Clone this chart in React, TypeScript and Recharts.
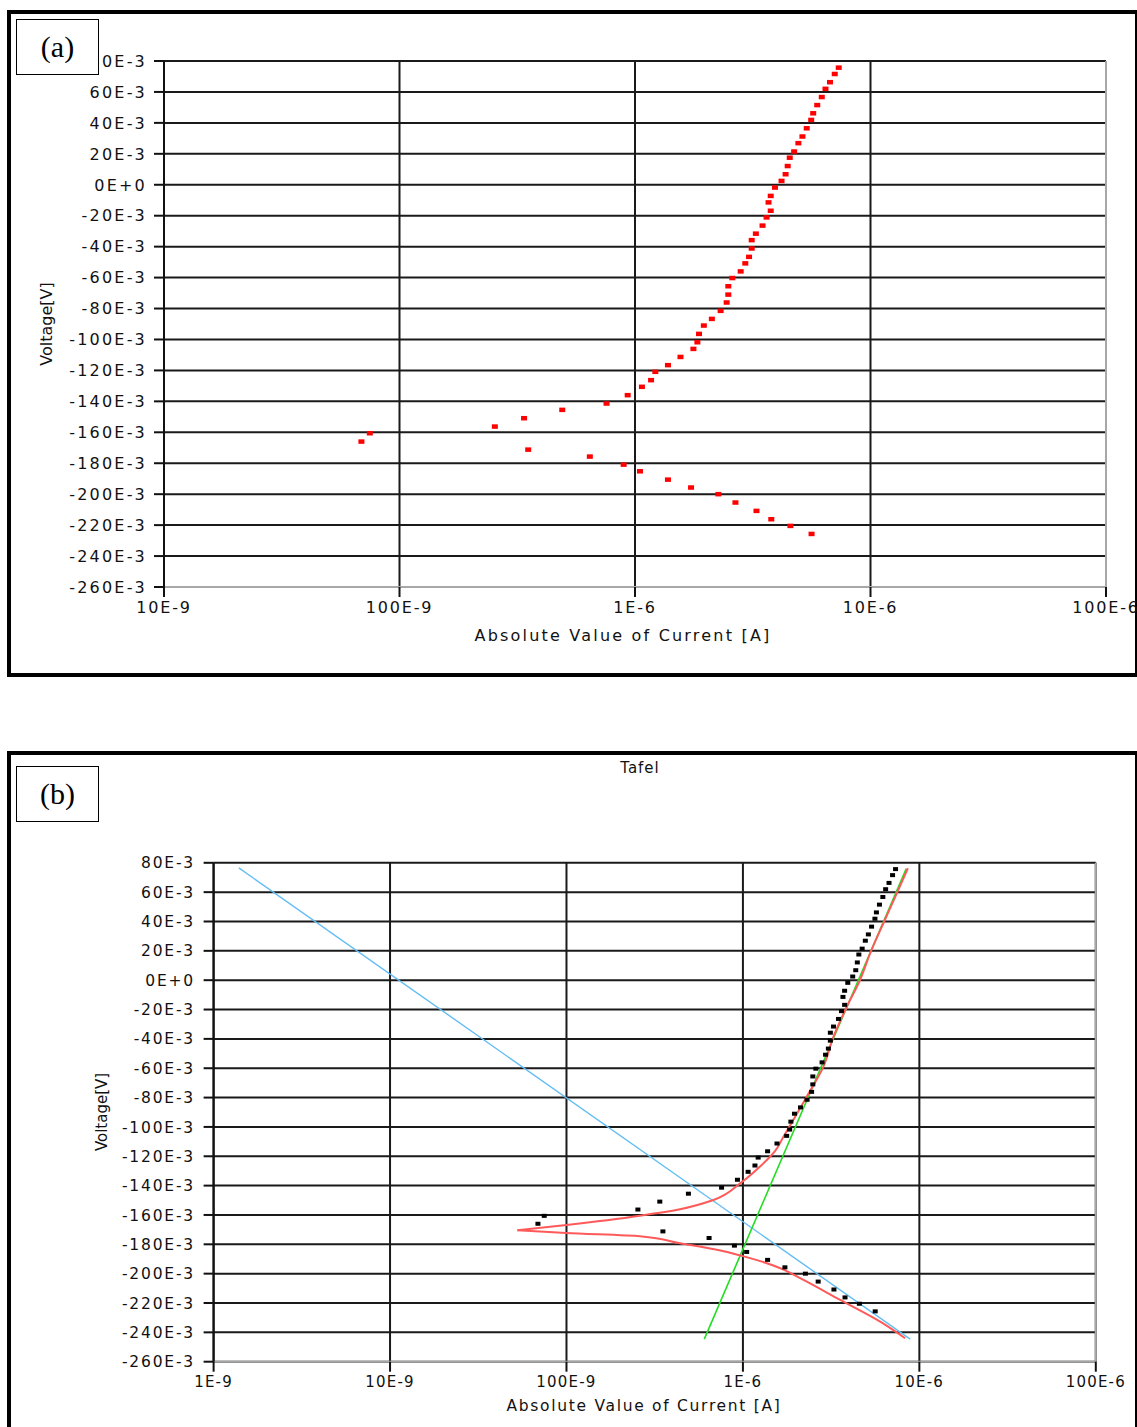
import React from 'react';
import { ScatterChart, Scatter, XAxis, YAxis, CartesianGrid, ReferenceLine } from 'recharts';

const FONT = '"DejaVu Sans", Verdana, sans-serif';
const INK = '#111111';
const GRID = '#1a1a1a';
const EDGE = '#a8a8a8';

// voltage axis (shared by both plots)
const voltageTicks = [0.08, 0.06, 0.04, 0.02, 0, -0.02, -0.04, -0.06, -0.08, -0.1, -0.12, -0.14, -0.16, -0.18, -0.2, -0.22, -0.24, -0.26];
const voltageLabels = ['80E-3', '60E-3', '40E-3', '20E-3', '0E+0', '-20E-3', '-40E-3', '-60E-3', '-80E-3', '-100E-3', '-120E-3', '-140E-3', '-160E-3', '-180E-3', '-200E-3', '-220E-3', '-240E-3', '-260E-3'];

// current axes (log)
const currentTicksA = [1e-8, 1e-7, 1e-6, 1e-5, 1e-4];
const currentLabelsA = ['10E-9', '100E-9', '1E-6', '10E-6', '100E-6'];
const currentTicksB = [1e-9, 1e-8, 1e-7, 1e-6, 1e-5, 1e-4];
const currentLabelsB = ['1E-9', '10E-9', '100E-9', '1E-6', '10E-6', '100E-6'];

// measured scan, [|I| in A, E in V]
const measured: [number, number][] = [
  [5.62e-6, -0.2257], [4.57e-6, -0.2205], [3.79e-6, -0.2162], [3.28e-6, -0.2108], [2.67e-6, -0.2054],
  [2.26e-6, -0.2], [1.73e-6, -0.1957], [1.38e-6, -0.1906], [1.05e-6, -0.1852], [8.95e-7, -0.1809],
  [6.43e-7, -0.1757], [3.52e-7, -0.1712], [6.89e-8, -0.166], [7.48e-8, -0.1606], [2.54e-7, -0.1563],
  [3.38e-7, -0.1509], [4.91e-7, -0.1455], [7.57e-7, -0.1414], [9.31e-7, -0.136], [1.07e-6, -0.1306],
  [1.17e-6, -0.1263], [1.22e-6, -0.1209], [1.38e-6, -0.1166], [1.56e-6, -0.1113], [1.77e-6, -0.1061],
  [1.84e-6, -0.1018], [1.87e-6, -0.0964], [1.96e-6, -0.091], [2.12e-6, -0.0867], [2.31e-6, -0.0815],
  [2.45e-6, -0.0761], [2.49e-6, -0.071], [2.49e-6, -0.0656], [2.59e-6, -0.0603], [2.81e-6, -0.056],
  [2.94e-6, -0.0508], [3.05e-6, -0.0466], [3.13e-6, -0.0412], [3.13e-6, -0.0358], [3.26e-6, -0.0316],
  [3.48e-6, -0.0264], [3.62e-6, -0.0211], [3.77e-6, -0.0168], [3.69e-6, -0.0114], [3.77e-6, -0.0072],
  [3.93e-6, -0.0018], [4.19e-6, 0.0025], [4.36e-6, 0.0068], [4.45e-6, 0.0121], [4.54e-6, 0.0175],
  [4.74e-6, 0.0215], [4.94e-6, 0.0269], [5.14e-6, 0.0312], [5.36e-6, 0.0365], [5.6e-6, 0.0419],
  [5.71e-6, 0.0462], [5.94e-6, 0.0515], [6.21e-6, 0.0567], [6.44e-6, 0.062], [6.73e-6, 0.0663],
  [7.05e-6, 0.0716], [7.33e-6, 0.0757],
];

// fitted curve: cathodic branch up to the tip, then anodic branch from the tip
const fitCathodic: [number, number][] = [
  [8.3e-6, -0.244], [6.0e-6, -0.2327], [3.56e-6, -0.2179], [2.11e-6, -0.2031], [1.63e-6, -0.1963],
  [1.01e-6, -0.1882], [7.0e-7, -0.1836], [4.4e-7, -0.1793], [2.61e-7, -0.1745], [1.0e-7, -0.1723],
  [5.27e-8, -0.1704],
];
const fitAnodic: [number, number][] = [
  [5.27e-8, -0.1704],
  [1.0e-7, -0.1668], [2.61e-7, -0.1605], [4.4e-7, -0.1561], [6.81e-7, -0.1498], [9.64e-7, -0.1385],
  [1.25e-6, -0.127], [1.52e-6, -0.1165], [1.7e-6, -0.1066], [1.93e-6, -0.0953], [2.3e-6, -0.0794],
  [2.86e-6, -0.0589], [3.26e-6, -0.0385], [3.88e-6, -0.0181], [4.61e-6, 0.0001], [5.26e-6, 0.0183],
  [6.25e-6, 0.0388], [7.45e-6, 0.0592], [8.61e-6, 0.0763],
];

// Tafel extrapolation lines
const cathodicTafel: [number, number][] = [[1.39e-9, 0.0765], [8.87e-6, -0.2446]];
const anodicTafel: [number, number][] = [[6.04e-7, -0.2446], [8.43e-6, 0.076]];

const rows = (pts: [number, number][]) => pts.map(([i, v]) => ({ i, v }));

const labelFor = (ticks: number[], labels: string[], value: number) => {
  const k = ticks.findIndex((t) => Math.abs(t - value) <= Math.abs(t) * 1e-6 + 1e-12);
  return k >= 0 ? labels[k] : '';
};

const yTick = (fontSize: number, spacing: number) => (p: any) => (
  <text x={p.x} y={p.y} dy="0.36em" textAnchor="end" fill={INK} fontFamily={FONT} fontSize={fontSize} letterSpacing={spacing}>
    {labelFor(voltageTicks, voltageLabels, p.payload.value)}
  </text>
);

const xTick = (ticks: number[], labels: string[], fontSize: number, spacing: number) => (p: any) => (
  <text x={p.x} y={p.y} dy="0.71em" textAnchor="middle" fill={INK} fontFamily={FONT} fontSize={fontSize} letterSpacing={spacing}>
    {labelFor(ticks, labels, p.payload.value)}
  </text>
);

const square = (w: number, h: number, color: string) => (p: any) => (
  <rect x={p.cx - w / 2} y={p.cy - h / 2} width={w} height={h} fill={color} />
);

const noMark = () => <g />;

const frame = (top: number, height: number): React.CSSProperties => ({
  position: 'absolute',
  left: 7,
  top,
  width: 1130,
  height,
  boxSizing: 'border-box',
  borderLeft: '4px solid #000',
  borderTop: '4px solid #000',
  borderBottom: '4px solid #000',
  borderRight: '2px solid #000',
});

const tagBox = (top: number): React.CSSProperties => ({
  position: 'absolute',
  left: 16,
  top,
  width: 83,
  height: 56,
  boxSizing: 'border-box',
  border: '1.5px solid #000',
  background: '#fff',
  fontFamily: '"Liberation Serif", "Times New Roman", serif',
  fontSize: 30,
  lineHeight: '53px',
  textAlign: 'center',
  color: '#000',
});

export default function App() {
  return (
    <div style={{ position: 'absolute', left: 0, top: 0, width: 1137, height: 1427, overflow: 'hidden', background: '#fff' }}>
      <div style={frame(10, 667)} />
      <div style={frame(751, 720)} />

      {/* (a) measured data only */}
      <div style={{ position: 'absolute', left: 0, top: 0 }}>
        <ScatterChart width={1137} height={680} margin={{ top: 61, right: 31, bottom: 53, left: 14 }}>
          <CartesianGrid stroke={GRID} strokeWidth={2} />
          <XAxis
            type="number"
            dataKey="i"
            scale="log"
            domain={[1e-8, 1e-4]}
            ticks={currentTicksA}
            interval={0}
            allowDataOverflow
            height={40}
            tickSize={10}
            tickMargin={5}
            tickLine={{ stroke: INK, strokeWidth: 2 }}
            axisLine={{ stroke: EDGE, strokeWidth: 2 }}
            tick={xTick(currentTicksA, currentLabelsA, 16, 1.8)}
          />
          <YAxis
            type="number"
            dataKey="v"
            domain={[-0.26, 0.08]}
            ticks={voltageTicks}
            interval={0}
            allowDataOverflow
            width={150}
            tickSize={10}
            tickMargin={7}
            tickLine={{ stroke: INK, strokeWidth: 2 }}
            axisLine={{ stroke: INK, strokeWidth: 2 }}
            tick={yTick(16, 2.2)}
          />
          <ReferenceLine x={1e-4} stroke={EDGE} strokeWidth={2} />
          <Scatter data={rows(measured)} shape={square(6, 4.5, '#ff0000')} isAnimationActive={false} />
        </ScatterChart>
      </div>

      {/* (b) Tafel fit */}
      <div style={{ position: 'absolute', left: 0, top: 740 }}>
        <ScatterChart width={1137} height={687} margin={{ top: 122.8, right: 41.2, bottom: 25.3, left: 63.6 }}>
          <CartesianGrid stroke={GRID} strokeWidth={2} />
          <XAxis
            type="number"
            dataKey="i"
            scale="log"
            domain={[1e-9, 1e-4]}
            ticks={currentTicksB}
            interval={0}
            allowDataOverflow
            height={40}
            tickSize={10}
            tickMargin={5}
            tickLine={{ stroke: INK, strokeWidth: 2 }}
            axisLine={{ stroke: EDGE, strokeWidth: 2 }}
            tick={xTick(currentTicksB, currentLabelsB, 15, 1.2)}
          />
          <YAxis
            type="number"
            dataKey="v"
            domain={[-0.26, 0.08]}
            ticks={voltageTicks}
            interval={0}
            allowDataOverflow
            width={150}
            tickSize={10}
            tickMargin={8.6}
            tickLine={{ stroke: INK, strokeWidth: 2 }}
            axisLine={{ stroke: INK, strokeWidth: 2 }}
            tick={yTick(15.5, 1.8)}
          />
          <ReferenceLine x={1e-4} stroke={EDGE} strokeWidth={2} />
          <Scatter data={rows(cathodicTafel)} line={{ stroke: '#63bdf5', strokeWidth: 1.4 }} shape={noMark} isAnimationActive={false} />
          <Scatter data={rows(anodicTafel)} line={{ stroke: '#22dd22', strokeWidth: 1.6 }} shape={noMark} isAnimationActive={false} />
          <Scatter
            data={rows(fitCathodic)}
            line={{ stroke: '#ff5a5a', strokeWidth: 2 }}
            lineJointType="monotoneY"
            shape={noMark}
            isAnimationActive={false}
          />
          <Scatter
            data={rows(fitAnodic)}
            line={{ stroke: '#ff5a5a', strokeWidth: 2 }}
            lineJointType="monotoneY"
            shape={noMark}
            isAnimationActive={false}
          />
          <Scatter data={rows(measured)} shape={square(5, 4, '#000000')} isAnimationActive={false} />
        </ScatterChart>
      </div>

      {/* axis titles */}
      <svg width={1137} height={1427} style={{ position: 'absolute', left: 0, top: 0, pointerEvents: 'none' }}>
        <g fontFamily={FONT} fill={INK}>
          <text x={623} y={635} textAnchor="middle" dominantBaseline="central" fontSize={16} letterSpacing={2.2}>
            Absolute Value of Current [A]
          </text>
          <text transform="translate(46 324) rotate(-90)" textAnchor="middle" dominantBaseline="central" fontSize={16}>
            Voltage[V]
          </text>
          <text x={640} y={768} textAnchor="middle" dominantBaseline="central" fontSize={15} letterSpacing={1}>
            Tafel
          </text>
          <text x={644} y={1406} textAnchor="middle" dominantBaseline="central" fontSize={15.5} letterSpacing={1.7}>
            Absolute Value of Current [A]
          </text>
          <text transform="translate(102 1112) rotate(-90)" textAnchor="middle" dominantBaseline="central" fontSize={15}>
            Voltage[V]
          </text>
        </g>
      </svg>

      <div style={tagBox(19)}>(a)</div>
      <div style={tagBox(766)}>(b)</div>
    </div>
  );
}
